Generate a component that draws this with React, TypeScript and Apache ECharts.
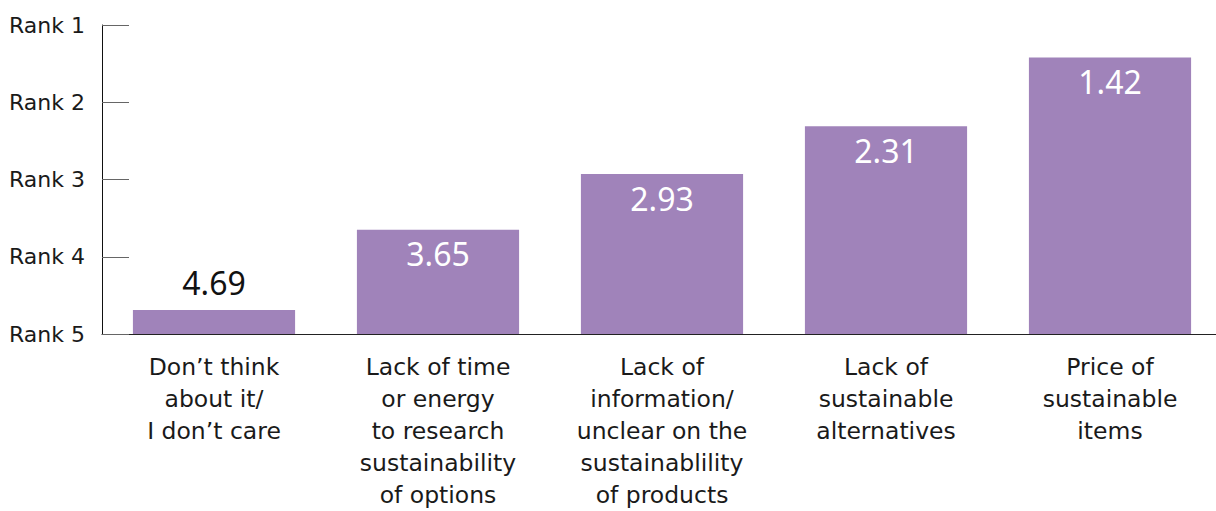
import React, { useEffect, useRef } from "react";
import * as echarts from "echarts";

const categories = [
  "Don’t think\nabout it/\nI don’t care",
  "Lack of time\nor energy\nto research\nsustainability\nof options",
  "Lack of\ninformation/\nunclear on the\nsustainablility\nof products",
  "Lack of\nsustainable\nalternatives",
  "Price of\nsustainable\nitems",
];
const avgRank = [4.69, 3.65, 2.93, 2.31, 1.42];
const rankTicks = ["Rank 5", "Rank 4", "Rank 3", "Rank 2", "Rank 1"];
const lowestRank = 5;

const FONT = "'DejaVu Sans', 'Noto Sans', sans-serif";
const VFONT = "'Noto Sans', sans-serif";
const PURPLE = "#A083BA";

export default function App() {
  const ref = useRef<HTMLDivElement>(null);
  useEffect(() => {
    if (!ref.current) return;
    const chart = echarts.init(ref.current, undefined, { renderer: "svg" });
    const data = avgRank.map((v, i) => ({
      value: +(lowestRank - v).toFixed(2),
      label:
        i === 0
          ? { position: "top", distance: 12, color: "#111" }
          : { position: "insideTop", distance: 8, color: "#fff" },
    }));
    chart.setOption({
      animation: false,
      textStyle: { fontFamily: FONT },
      grid: { left: 102, right: 0, top: 25, bottom: 176, containLabel: false },
      xAxis: {
        type: "category",
        data: categories,
        axisLine: { show: true, lineStyle: { color: "#222", width: 1 } },
        axisTick: { show: false },
        axisLabel: {
          interval: 0,
          fontFamily: FONT,
          fontSize: 23.5,
          lineHeight: 32,
          color: "#1a1a1a",
          margin: 17,
        },
      },
      yAxis: {
        type: "value",
        min: 0,
        max: 4,
        interval: 1,
        splitLine: { show: false },
        axisLine: { show: true, lineStyle: { color: "#111", width: 1 } },
        axisTick: { show: true, inside: true, length: 27, lineStyle: { color: "#666" } },
        axisLabel: {
          fontFamily: FONT,
          fontSize: 22,
          color: "#1a1a1a",
          margin: 17,
          formatter: (v: number) => rankTicks[Math.round(v)],
        },
      },
      series: [
        {
          type: "bar",
          data,
          barWidth: "72.4%",
          itemStyle: { color: PURPLE },
          label: {
            show: true,
            fontFamily: VFONT,
            fontSize: 32,
            formatter: (p: any) => avgRank[p.dataIndex].toFixed(2),
          },
        },
      ],
    });
    return () => chart.dispose();
  }, []);
  return (
    <div
      ref={ref}
      style={{ position: "fixed", left: 0, top: 0, width: 1222, height: 511, background: "#fff" }}
    />
  );
}
